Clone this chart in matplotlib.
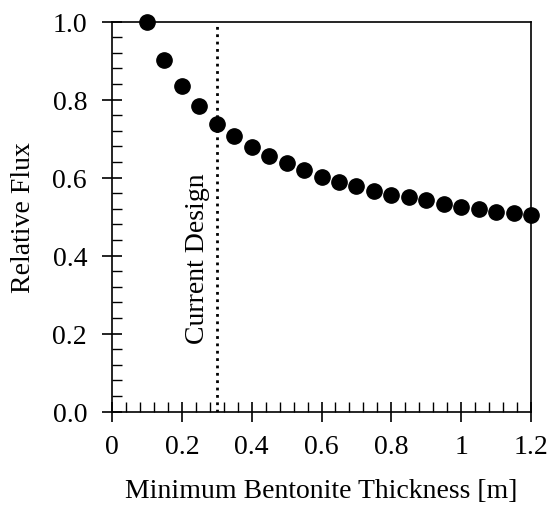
import matplotlib
matplotlib.use("Agg")
import matplotlib.pyplot as plt
from matplotlib.ticker import MultipleLocator, FuncFormatter

plt.rcParams['font.family'] = ['Liberation Serif', 'DejaVu Serif']

thickness = [0.10, 0.15, 0.20, 0.25, 0.30, 0.35, 0.40, 0.45, 0.50, 0.55, 0.60, 0.65,
             0.70, 0.75, 0.80, 0.85, 0.90, 0.95, 1.00, 1.05, 1.10, 1.15, 1.20]
relative_flux = [1.000, 0.903, 0.835, 0.783, 0.738, 0.708, 0.678, 0.656, 0.638, 0.619,
                 0.603, 0.590, 0.578, 0.566, 0.556, 0.550, 0.542, 0.532, 0.526, 0.519,
                 0.513, 0.510, 0.504]
current_design = 0.3
x_ticks = [0, 0.2, 0.4, 0.6, 0.8, 1.0, 1.2]
x_tick_labels = ['0', '0.2', '0.4', '0.6', '0.8', '1', '1.2']
y_ticks = [0.0, 0.2, 0.4, 0.6, 0.8, 1.0]

FS = 20

fig = plt.figure(figsize=(5.51, 5.06), dpi=100)
ax = fig.add_axes([0.2033, 0.1844, 0.7604, 0.7708])

ax.plot(thickness, relative_flux, linestyle='none', marker='o', markersize=11,
        color='black', clip_on=False, zorder=3)
ax.plot([current_design, current_design], [0, 1], linestyle=':', color='black', linewidth=2)
ax.text(current_design - 0.02, 0.395, 'Current Design', rotation=90, ha='right', va='center',
        fontsize=FS)

ax.set_xlim(0, 1.2)
ax.set_ylim(0, 1.0)
ax.set_xticks(x_ticks)
ax.set_xticklabels(x_tick_labels)
ax.set_yticks(y_ticks)
ax.yaxis.set_major_formatter(FuncFormatter(lambda v, p: f'{v:.1f}'))
ax.xaxis.set_minor_locator(MultipleLocator(0.04))
ax.yaxis.set_minor_locator(MultipleLocator(0.04))
ax.tick_params(which='major', direction='inout', length=14, width=1.2, labelsize=FS)
ax.tick_params(which='minor', direction='in', length=7, width=1.0)
ax.tick_params(axis='x', which='major', pad=9)
ax.tick_params(axis='y', which='major', pad=11)
for s in ax.spines.values():
    s.set_linewidth(1.2)

ax.set_xlabel('Minimum Bentonite Thickness [m]', fontsize=FS, labelpad=14)
ax.set_ylabel('Relative Flux', fontsize=FS, labelpad=12)

fig.savefig('out.png', dpi=100)
